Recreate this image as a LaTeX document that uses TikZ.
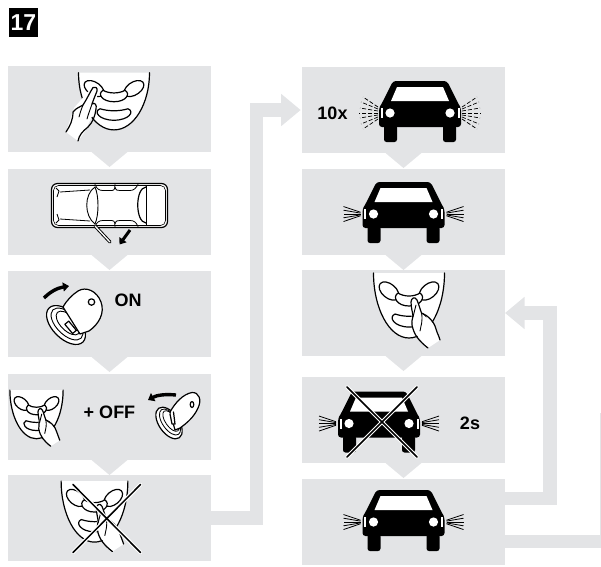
\documentclass[tikz,border=0pt]{standalone}
\usepackage{fontspec}
\setmainfont{Liberation Sans}
\usetikzlibrary{arrows.meta,calc}
\definecolor{panel}{HTML}{E3E4E6}
\tikzset{
  x=1pt,y=-1pt,
  stepbox/.style={fill=panel,draw=none,inner sep=0pt,outer sep=0pt,minimum width=203pt,minimum height=86pt,anchor=north west},
  band/.style={draw=panel,line width=13.4pt,line join=miter},
  bandarrow/.style={band,-{Triangle[length=19.5pt,width=31pt,fill=panel]}},
  fstep/.style={fill=panel,draw=none},
  lab/.style={font=\bfseries\fontsize{18}{18}\selectfont,inner sep=0pt,text=black},
  ink/.style={draw=black,line width=1.2pt,line cap=round,line join=round},
  inkw/.style={ink,fill=white},
  crossw/.style={draw=white,line width=3.8pt,line cap=round},
  crossk/.style={draw=black,line width=1.5pt,line cap=round},
  bigarrow/.style={draw=black,line width=3.4pt,-{Triangle[length=6pt,width=9pt,fill=black]}},
}
\newcommand{\stepdown}[1]{\fill[fstep] ([xshift=-18pt]#1.south) -- ([xshift=18pt]#1.south) -- ([yshift=-15pt]#1.south) -- cycle;}
\newcommand{\fobshape}{%
  \fill[white] (-35.5,0) .. controls (-35.5,35) and (-20,65) .. (0,65) .. controls (20,65) and (35.5,35) .. (35.5,0) -- cycle;
  \draw[ink] (-35.5,0) .. controls (-35.5,35) and (-20,65) .. (0,65) .. controls (20,65) and (35.5,35) .. (35.5,0);
  \draw[ink,rotate around={-40:(-20,18)}] (-20,18) ellipse [x radius=11.5,y radius=7];
  \draw[ink,rotate around={40:(20,18)}] (20,18) ellipse [x radius=11.5,y radius=7];
  \draw[inkw] (-11,20) .. controls (-5,24) and (5,24) .. (11,20) .. controls (17,24) and (12,33) .. (0,33) .. controls (-12,33) and (-17,24) .. (-11,20) -- cycle;
  \draw[ink] (-14,41) .. controls (-5,44) and (5,44) .. (14,41) .. controls (21,44) and (15,54) .. (0,54) .. controls (-15,54) and (-21,44) .. (-14,41) -- cycle;
}
\newcommand{\handmid}{%
  \fill[white] (4,25) -- (2,29) -- (3,50) -- (6,60) -- (19,75) -- (31,67) -- (24,50) -- (12,40) -- (8,27) -- cycle;
  \draw[ink] (19,75) .. controls (10,68) and (5,62) .. (3,52) .. controls (2,47) and (5,44) .. (3.5,40) .. controls (2.5,35) and (2,32) .. (2,29) .. controls (2,25) and (6,23) .. (8,27) .. controls (10,32) and (11,36) .. (12.5,40) .. controls (18,42) and (25,48) .. (27,56) .. controls (28,60) and (30,63) .. (31,67);
  \draw[ink,line width=.9pt] (4,44) -- (7,32);
  \draw[ink,line width=.9pt] (12.5,40) .. controls (14,48) and (12,52) .. (11,58);
}
\newcommand{\fobmid}[4]{\begin{scope}[shift={(#1,#2)},xscale=#3,yscale=#4]\fobshape\handmid\end{scope}}
\newcommand{\carfront}[2]{\begin{scope}[shift={(#1,#2)}]
  \fill[black,rounded corners=2.5pt] (-23,44) rectangle (-36,61);
  \fill[black,rounded corners=2.5pt] (23,44) rectangle (36,61);
  \fill[black,rounded corners=3pt] (-27,0) -- (27,0) -- (38.5,23) -- (41,27) -- (41,46) -- (-41,46) -- (-41,27) -- (-38.5,23) -- cycle;
  \fill[white] (-29,20) -- (-23,6) -- (23,6) -- (29,20) -- cycle;
  \fill[white] (-30,32) circle (4.6) (30,32) circle (4.6);
  \fill[white] (-39.5,27) rectangle (-37.5,37);
  \fill[white] (37.5,27) rectangle (39.5,37);
\end{scope}}
\newcommand{\raysolid}[2]{\begin{scope}[shift={(#1,#2)}]
  \foreach \s in {-1,1}{
    \foreach \a/\b in {-1.8/-7.5,-.9/-3.8,0/0,.9/3.8,1.8/7.5}{
      \draw[black,line width=.8pt] (\s*43,32+\a) -- (\s*60,32+\b);
    }}
\end{scope}}
\newcommand{\raydash}[2]{\begin{scope}[shift={(#1,#2)}]
  \foreach \s in {-1,1}{
    \foreach \a/\b/\c in {-6/-16/57,-4/-11/59,-2/-5/60,0/0/61,2/5/60,4/11/59,6/16/57}{
      \draw[black,line width=.7pt,dash pattern=on 4pt off 2pt] (\s*42,32+\a) -- (\s*\c,32+\b);
    }}
\end{scope}}
\newcommand{\crossmark}[4]{%
  \draw[crossw] (#1,#2) -- (#3,#4) (#3,#2) -- (#1,#4);
  \draw[crossk] (#1,#2) -- (#3,#4) (#3,#2) -- (#1,#4);}
\begin{document}
\begin{tikzpicture}
\useasboundingbox (0,0) rectangle (601,566);
\node[fill=black,text=white,font=\bfseries\fontsize{23}{23}\selectfont,minimum width=29pt,minimum height=29pt,inner sep=0pt,outer sep=0pt] (badge) at (23.5,22.5) {17};
\node[stepbox] (L1) at (8,66) {};
\node[stepbox] (L2) at (8,169) {};
\node[stepbox] (L3) at (8,271) {};
\node[stepbox] (L4) at (8,374) {};
\node[stepbox] (L5) at (8,475) {};
\node[stepbox] (R1) at (302,67) {};
\node[stepbox] (R2) at (302,169) {};
\node[stepbox] (R3) at (302,270) {};
\node[stepbox] (R4) at (302,377) {};
\node[stepbox] (R5) at (302,479) {};
\stepdown{L1}\stepdown{L2}\stepdown{L3}\stepdown{L4}
\stepdown{R1}\stepdown{R2}\stepdown{R3}\stepdown{R4}
\coordinate (up1a) at (256.5,518);
\coordinate (up1b) at (256.5,110);
\draw[bandarrow,shorten >=1.3pt] (L5.east) -- (up1a) -- (up1b) -- (R1.west);
\coordinate (r5up) at (505,498.5);
\coordinate (up2a) at (550,498.5);
\coordinate (up2b) at (550,313);
\coordinate (r3in) at (505,313);
\draw[bandarrow] (r5up) -- (up2a) -- (up2b) -- (r3in);
\coordinate (r5low) at (505,541.5);
\coordinate (up3a) at (606.2,541.5);
\coordinate (up3b) at (606.2,413);
\begin{scope}
\clip (0,0) rectangle (601,566);
\draw[band] (r5low) -- (up3a) -- (up3b);
\end{scope}
% L1
\begin{scope}[shift={(114,72.7)},yscale=.88]\fobshape\end{scope}
\fill[white] (66,132) -- (74,108) -- (93,86) -- (98,90) -- (95,110) -- (84,133) -- (78,141) -- cycle;
\draw[ink] (66,132) .. controls (70,126) and (73,120) .. (73,112) .. controls (76,108) and (80,107) .. (83,105) .. controls (87,99) and (90,92) .. (93,87.5) .. controls (95,86) and (98,88) .. (97,91) .. controls (95,96) and (93,101) .. (92,104) .. controls (95,102) and (97,105) .. (96,109) .. controls (95,116) and (93,122) .. (88,127) .. controls (83,131) and (79,135) .. (78,141);
\draw[ink,line width=.9pt] (83,105) .. controls (81,110) and (80,113) .. (79,117);
\draw[ink,line width=.9pt] (92,104) .. controls (90,110) and (88,115) .. (87,119);
% L2
\draw[inkw,rounded corners=6pt] (51.5,183.5) rectangle (167.5,227.5);
\draw[black,line width=.6pt,rounded corners=5pt] (53.5,185.5) rectangle (165.5,225.5);
\draw[black,line width=.8pt] (60,192) -- (90,190) (60,219) -- (90,221);
\draw[black,line width=.8pt] (56,188) -- (59,191) -- (57,197) (56,223) -- (59,220) -- (57,214);
\draw[ink,line width=.9pt] (95,187) .. controls (84,194) and (84,216) .. (95,224);
\draw[ink,line width=.9pt] (95,187) .. controls (99,196) and (99,215) .. (95,224);
\draw[ink] (146,187) .. controls (135,188) and (135,222) .. (146,223);
\draw[ink,line width=.8pt] (146.5,186) -- (146.5,225);
\draw[ink,line width=.8pt] (95,184.5) .. controls (97,189) and (99,190.5) .. (103,190.5) -- (112,190.5) .. controls (115,190.5) and (115,187) .. (115,184.5);
\draw[ink,line width=.8pt] (115,187) .. controls (116,190.5) and (117,190.5) .. (120,190.5) -- (130,190.5) .. controls (134,190.5) and (136,188) .. (138,184.5);
\draw[ink,line width=.8pt] (95,226.5) .. controls (97,222) and (99,220.5) .. (103,220.5) -- (112,220.5) .. controls (115,220.5) and (115,224) .. (115,226.5);
\draw[ink,line width=.8pt] (115,224) .. controls (116,220.5) and (117,220.5) .. (120,220.5) -- (130,220.5) .. controls (134,220.5) and (136,222) .. (138,226.5);
\coordinate (doorA) at (95,226);
\coordinate (doorB) at (110,242);
\draw[black,line width=3.2pt,line cap=round] (doorA) -- (doorB);
\draw[white,line width=1.3pt,line cap=round] (doorA) -- (doorB);
\coordinate (dirA) at (130,230);
\coordinate (dirB) at (119.5,244.5);
\draw[black,line width=3pt,-{Triangle[length=6pt,width=8.5pt,fill=black]}] (dirA) -- (dirB);
% L3
\draw[inkw,rotate around={-45:(66,325)}] (66,325) ellipse [x radius=24,y radius=13.5];
\draw[ink,line width=.9pt,rotate around={-45:(67,324)}] (67,324) ellipse [x radius=20,y radius=10.5];
\draw[ink,line width=.9pt,rotate around={-45:(68,323)}] (68,323) ellipse [x radius=15,y radius=7.5];
\draw[inkw,rotate around={-50:(71,327)}] (65,325) rectangle (77,330);
\draw[inkw] (63,307) .. controls (67,300) and (72,295) .. (78,291) .. controls (86,286) and (97,291) .. (101,302) .. controls (105,313) and (99,324) .. (89,331) -- (80,334) -- cycle;
\draw[ink] (91.5,302) circle (3.2);
\coordinate (onA) at (44,298);
\coordinate (onB) at (69,286);
\draw[bigarrow] (onA) .. controls (50,292) and (57,288) .. (onB);
\node[lab] (on) at (128,300) {ON};
% L4
\fobmid{36.5}{390}{.75}{.75}
\node[lab] (off) at (109.5,412) {+ OFF};
\draw[inkw,rotate around={-55:(169,423)}] (169,423) ellipse [x radius=18,y radius=10];
\draw[ink,line width=.8pt,rotate around={-55:(170,422)}] (170,422) ellipse [x radius=15,y radius=7.5];
\draw[ink,line width=.8pt,rotate around={-55:(171,421)}] (171,421) ellipse [x radius=12,y radius=5.5];
\draw[inkw] (170,412) .. controls (175,403) and (183,394) .. (192,392.5) .. controls (199,392) and (202,400) .. (198,408) .. controls (194,417) and (187,423) .. (180,428) -- (175,430) -- cycle;
\draw[inkw] (170,414) -- (172,424) -- (175,424) -- (173.5,412);
\draw[ink] (192,404.5) ellipse [x radius=1.8,y radius=3];
\coordinate (offA) at (176,395);
\coordinate (offB) at (148,400);
\draw[bigarrow] (offA) .. controls (166,394) and (157,395) .. (offB);
% L5
\fobmid{94.5}{481}{.94}{.94}
\crossmark{73}{484.5}{140.5}{552.5}
% R1
\node[lab] (tenx) at (332.5,113) {10x};
\carfront{420}{81}
\raydash{420}{81}
% R2
\carfront{403.5}{182}
\raysolid{403.5}{182}
% R3
\fobmid{409}{273}{1}{1}
% R4
\carfront{379}{391.5}
\raysolid{379}{391.5}
\crossmark{347}{387}{417}{457}
\node[lab] (twos) at (470,423) {2s};
% R5
\carfront{403.5}{490}
\raysolid{403.5}{490}
\end{tikzpicture}
\end{document}
